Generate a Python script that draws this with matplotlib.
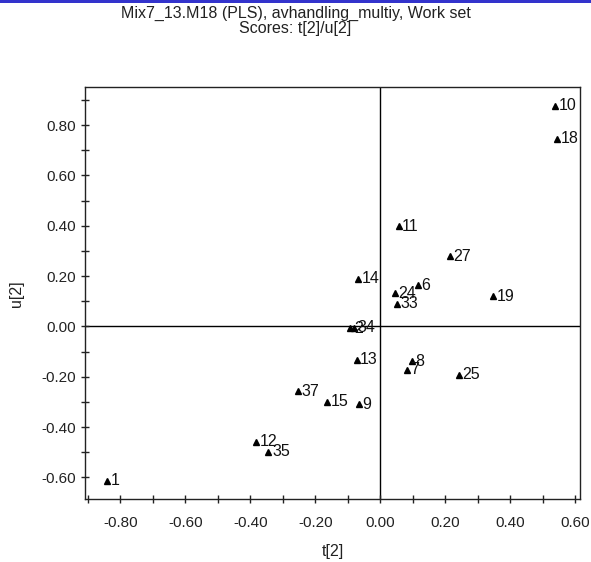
import matplotlib
matplotlib.use("Agg")
import matplotlib.pyplot as plt
from matplotlib.ticker import MultipleLocator, FormatStrFormatter
from matplotlib.patches import Rectangle

plt.rcParams['font.family'] = ['Liberation Sans', 'DejaVu Sans']

labels = ['10', '18', '11', '27', '14', '6', '24', '33', '19', '2', '34',
          '13', '8', '7', '25', '37', '15', '9', '12', '35', '1']
t2 = [0.538, 0.545, 0.057, 0.215, -0.069, 0.116, 0.045, 0.052, 0.348, -0.092, -0.080,
      -0.073, 0.098, 0.081, 0.243, -0.253, -0.163, -0.065, -0.381, -0.344, -0.840]
u2 = [0.877, 0.746, 0.397, 0.278, 0.190, 0.163, 0.132, 0.090, 0.120, -0.008, -0.005,
      -0.132, -0.138, -0.172, -0.192, -0.258, -0.300, -0.309, -0.459, -0.499, -0.614]

title1 = "Mix7_13.M18 (PLS), avhandling_multiy, Work set"
title2 = "Scores: t[2]/u[2]"

fig = plt.figure(figsize=(5.91, 5.62), dpi=100)
fig.patches.append(Rectangle((0, 1 - 3 / 562), 1, 3 / 562, transform=fig.transFigure,
                             facecolor='#3333cc', edgecolor='none'))
ax = fig.add_axes([85.3 / 591, 1 - 499.3 / 562, (580 - 85.3) / 591, (499.3 - 87.3) / 562])

ax.set_xlim(-0.908, 0.615)
ax.set_ylim(-0.687, 0.95)
ax.axhline(0, color='black', lw=1.0, zorder=1)
ax.axvline(0, color='black', lw=1.0, zorder=1)

ax.plot(t2, u2, linestyle='none', marker='^', color='black', markersize=4.5, zorder=3)
for lab, x, y in zip(labels, t2, u2):
    ax.annotate(lab, (x, y), xytext=(2.5, 0), textcoords='offset points',
                va='center', ha='left', fontsize=11.5, color='#111111', zorder=4)

ax.xaxis.set_major_locator(MultipleLocator(0.2))
ax.xaxis.set_minor_locator(MultipleLocator(0.1))
ax.yaxis.set_major_locator(MultipleLocator(0.2))
ax.yaxis.set_minor_locator(MultipleLocator(0.1))
ax.xaxis.set_major_formatter(FormatStrFormatter('%.2f'))
ax.yaxis.set_major_formatter(FormatStrFormatter('%.2f'))
ax.tick_params(which='both', direction='inout', length=6, width=1, labelsize=11,
               colors='#222222')
ax.tick_params(axis='x', pad=9)
ax.tick_params(axis='y', pad=4)
for s in ax.spines.values():
    s.set_linewidth(1.0)
    s.set_color('#222222')

ax.set_xlabel('t[2]', fontsize=11.5, labelpad=10, color='#222222')
ax.set_ylabel('u[2]', fontsize=11.5, labelpad=12, color='#222222')

fig.text(0.5, 1 - 21 / 562, title1 + "\n" + title2, ha='center', va='center',
         fontsize=11.5, color='#222222', linespacing=1.05, multialignment='center')

fig.savefig('out.png', dpi=100)
